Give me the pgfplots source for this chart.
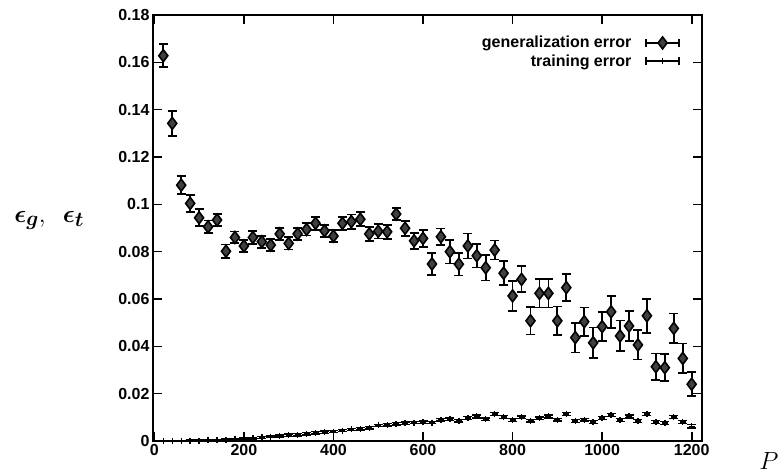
\documentclass[border=0pt]{standalone}
\usepackage{amsmath}
\usepackage{fontspec}
\setmainfont{Liberation Sans}
\usepackage{pgfplots}
\usepackage{pgfplotstable}
\pgfplotsset{compat=1.18}

% generalization error: P, value, half width of the error bar
\pgfplotstableread{
P y e
20 0.1628 0.0048
40 0.1342 0.0052
60 0.1081 0.0038
80 0.1004 0.0036
100 0.0943 0.0036
120 0.0905 0.0027
140 0.0934 0.0025
160 0.0802 0.0028
180 0.0860 0.0025
200 0.0824 0.0025
220 0.0860 0.0028
240 0.0842 0.0025
260 0.0828 0.0026
280 0.0875 0.0026
300 0.0835 0.0026
320 0.0875 0.0026
340 0.0894 0.0026
360 0.0920 0.0027
380 0.0888 0.0026
400 0.0866 0.0026
420 0.0920 0.0028
440 0.0927 0.0030
460 0.0937 0.0030
480 0.0875 0.0030
500 0.0886 0.0030
520 0.0884 0.0030
540 0.0959 0.0026
560 0.0899 0.0032
580 0.0846 0.0034
600 0.0856 0.0036
620 0.0748 0.0046
640 0.0863 0.0035
660 0.0800 0.0050
680 0.0747 0.0048
700 0.0824 0.0053
720 0.0783 0.0050
740 0.0732 0.0054
760 0.0807 0.0040
780 0.0709 0.0050
800 0.0613 0.0062
820 0.0683 0.0055
840 0.0508 0.0058
860 0.0624 0.0060
880 0.0624 0.0060
900 0.0508 0.0060
920 0.0648 0.0058
940 0.0437 0.0063
960 0.0504 0.0060
980 0.0415 0.0065
1000 0.0483 0.0062
1020 0.0546 0.0068
1040 0.0444 0.0065
1060 0.0486 0.0062
1080 0.0406 0.0062
1100 0.0529 0.0072
1120 0.0314 0.0056
1140 0.0310 0.0058
1160 0.0476 0.0063
1180 0.0349 0.0063
1200 0.0240 0.0050
}\generr

% training error
\pgfplotstableread{
P y e
20 0.0000 0.0002
40 0.0001 0.0002
60 0.0001 0.0002
80 0.0002 0.0002
100 0.0002 0.0002
120 0.0003 0.0003
140 0.0004 0.0003
160 0.0005 0.0003
180 0.0007 0.0003
200 0.0009 0.0004
220 0.0012 0.0004
240 0.0015 0.0004
260 0.0018 0.0004
280 0.0021 0.0004
300 0.0025 0.0005
320 0.0027 0.0005
340 0.0031 0.0005
360 0.0035 0.0005
380 0.0037 0.0005
400 0.0040 0.0005
420 0.0044 0.0005
440 0.0049 0.0005
460 0.0052 0.0005
480 0.0056 0.0005
500 0.0066 0.0005
520 0.0068 0.0005
540 0.0072 0.0005
560 0.0076 0.0005
580 0.0078 0.0005
600 0.0080 0.0005
620 0.0078 0.0005
640 0.0090 0.0005
660 0.0092 0.0005
680 0.0086 0.0005
700 0.0098 0.0006
720 0.0104 0.0006
740 0.0092 0.0006
760 0.0114 0.0006
780 0.0102 0.0006
800 0.0088 0.0006
820 0.0100 0.0006
840 0.0086 0.0006
860 0.0096 0.0006
880 0.0104 0.0006
900 0.0090 0.0006
920 0.0114 0.0006
940 0.0084 0.0006
960 0.0090 0.0006
980 0.0080 0.0006
1000 0.0098 0.0006
1020 0.0110 0.0006
1040 0.0088 0.0006
1060 0.0104 0.0006
1080 0.0084 0.0006
1100 0.0114 0.0006
1120 0.0080 0.0006
1140 0.0076 0.0006
1160 0.0102 0.0006
1180 0.0080 0.0006
1200 0.0062 0.0007
}\trainerr

\pgfplotsset{
  errlegend/.style={legend image code/.code={
    \draw[black, line width=1.5pt] (0pt,0pt) -- (33pt,0pt);
    \draw[black, line width=1.5pt] (0pt,-4pt) -- (0pt,4pt) (33pt,-4pt) -- (33pt,4pt);
    \draw[##1, only marks] plot coordinates {(16.5pt,0pt)};
  }},
}

\begin{document}
\begin{tikzpicture}
\begin{axis}[
  at={(153pt,34pt)}, anchor=south west,
  width=549pt, height=426pt, scale only axis,
  xmin=-3, xmax=1223,
  ymin=0, ymax=0.18,
  xtick={0,200,400,600,800,1000,1200},
  ytick={0,0.02,0.04,0.06,0.08,0.1,0.12,0.14,0.16,0.18},
  scaled y ticks=false,
  /pgf/number format/1000 sep={},
  /pgf/number format/assume math mode=true,
  yticklabel style={/pgf/number format/fixed, /pgf/number format/precision=2},
  ticklabel style={font=\fontsize{16}{18}\selectfont\bfseries},
  tick align=inside,
  major tick length=9pt,
  tick style={black, line width=1.6pt},
  axis line style={line width=1.8pt},
  xlabel={$P$},
  xlabel style={at={(axis description cs:1.104,-0.068)}, anchor=base west,
    font=\fontsize{28}{30}\selectfont, inner sep=0pt},
  ylabel={$\boldsymbol{\epsilon_g},\hspace{0.45em}\boldsymbol{\epsilon_t}$},
  ylabel style={rotate=-90, at={(axis description cs:-0.253,0.514)}, anchor=base west,
    font=\fontsize{29}{31}\selectfont, inner sep=0pt},
  legend style={at={(axis description cs:0.96,0.955)}, anchor=north east,
    draw=none, fill=none, inner sep=0pt, column sep=12pt, row sep=1pt,
    font=\fontsize{16}{18}\selectfont\bfseries},
  legend cell align=right,
  legend plot pos=right,
]
\addplot[black, only marks, mark=diamond*, mark size=6pt,
  mark options={fill=black!75, draw=black, line width=1.6pt},
  error bars/.cd, y dir=both, y explicit,
  error mark=-,
  error bar style={black, line width=1.8pt},
  error mark options={rotate=90, black, mark size=4.5pt, line width=1.8pt},
  /pgfplots/.cd, errlegend]
  table[x=P, y=y, y error=e] {\generr};
\addlegendentry{generalization error}

\addplot[black, only marks, mark=+, mark size=3pt,
  mark options={line width=1.4pt},
  error bars/.cd, y dir=both, y explicit,
  error mark=-,
  error bar style={black, line width=1.4pt},
  error mark options={rotate=90, black, mark size=4.5pt, line width=1.4pt},
  /pgfplots/.cd, errlegend]
  table[x=P, y=y, y error=e] {\trainerr};
\addlegendentry{training error}
\end{axis}
\pgfresetboundingbox
\path[use as bounding box] (0,0) rectangle (783pt,475pt);
\end{tikzpicture}
\end{document}
